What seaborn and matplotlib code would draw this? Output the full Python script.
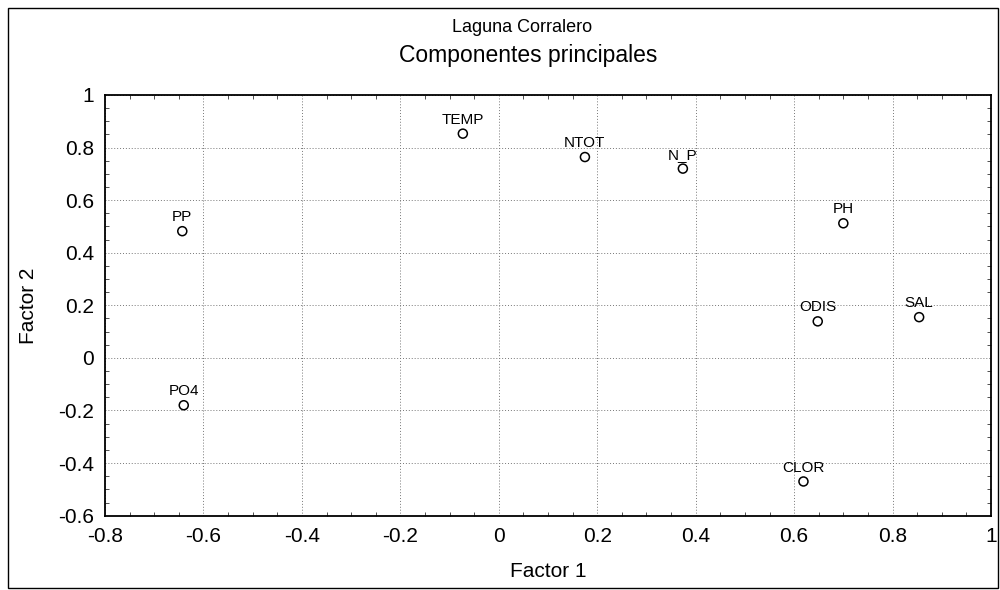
import matplotlib
import matplotlib.pyplot as plt
import pandas as pd
import seaborn as sns
from matplotlib.patches import Rectangle
from matplotlib.ticker import MultipleLocator

matplotlib.use("Agg")

# ── Data ──────────────────────────────────────────────────────────────────────
variables = ["TEMP", "NTOT", "N_P", "PP", "PH", "ODIS", "SAL", "PO4", "CLOR"]
factor1 = [-0.073, 0.175, 0.374, -0.643, 0.700, 0.648, 0.854, -0.640, 0.619]
factor2 = [0.853, 0.764, 0.720, 0.482, 0.512, 0.139, 0.155, -0.180, -0.470]

x_ticks = [-0.8, -0.6, -0.4, -0.2, 0, 0.2, 0.4, 0.6, 0.8, 1]
x_tick_labels = ["-0.8", "-0.6", "-0.4", "-0.2", "0", "0.2", "0.4", "0.6", "0.8", "1"]
y_ticks = [-0.6, -0.4, -0.2, 0, 0.2, 0.4, 0.6, 0.8, 1]
y_tick_labels = ["-0.6", "-0.4", "-0.2", "0", "0.2", "0.4", "0.6", "0.8", "1"]

df = pd.DataFrame({"var": variables, "f1": factor1, "f2": factor2})

sns.set_theme(style="white")
plt.rcParams["font.family"] = ["Liberation Sans", "DejaVu Sans"]
plt.rcParams["text.color"] = "black"

fig = plt.figure(figsize=(10, 5.9), dpi=100)
ax = fig.add_axes([0.105, 0.126, 0.886, 0.713])

sns.scatterplot(
    data=df, x="f1", y="f2", ax=ax, marker="o", s=42,
    facecolor="none", edgecolor="black", linewidth=1.1, legend=False,
)

for _, row in df.iterrows():
    ax.annotate(row["var"], (row["f1"], row["f2"]), xytext=(0, 5),
                textcoords="offset points", ha="center", va="bottom",
                fontsize=11, color="black")

ax.set_xlim(-0.8, 1)
ax.set_ylim(-0.6, 1)
ax.set_xticks(x_ticks)
ax.set_xticklabels(x_tick_labels)
ax.set_yticks(y_ticks)
ax.set_yticklabels(y_tick_labels)
ax.xaxis.set_minor_locator(MultipleLocator(0.05))
ax.yaxis.set_minor_locator(MultipleLocator(0.05))
ax.tick_params(axis="both", which="major", labelsize=15, length=0, pad=8, colors="black")
ax.tick_params(axis="both", which="minor", direction="in", length=3, width=0.6,
               top=True, right=True, bottom=True, left=True, color="#333333")

ax.grid(True, which="major", linestyle=(0, (1, 2)), color="#777777", linewidth=0.7)
for spine in ax.spines.values():
    spine.set_color("black")
    spine.set_linewidth(1.3)

ax.set_xlabel("Factor 1", fontsize=15, labelpad=12, color="black")
ax.set_ylabel("Factor 2", fontsize=15, labelpad=14, color="black")

fig.text(0.522, 0.954, "Laguna Corralero", ha="center", va="center",
         fontsize=13, color="black")
fig.text(0.528, 0.906, "Componentes principales", ha="center", va="center",
         fontsize=16.5, color="black")

# outer frame around the whole chart
fig.patches.append(Rectangle((0.008, 0.004), 0.99, 0.982, transform=fig.transFigure,
                             fill=False, edgecolor="black", linewidth=1.0))

fig.savefig("out.png", dpi=100, facecolor="white")
plt.close(fig)
